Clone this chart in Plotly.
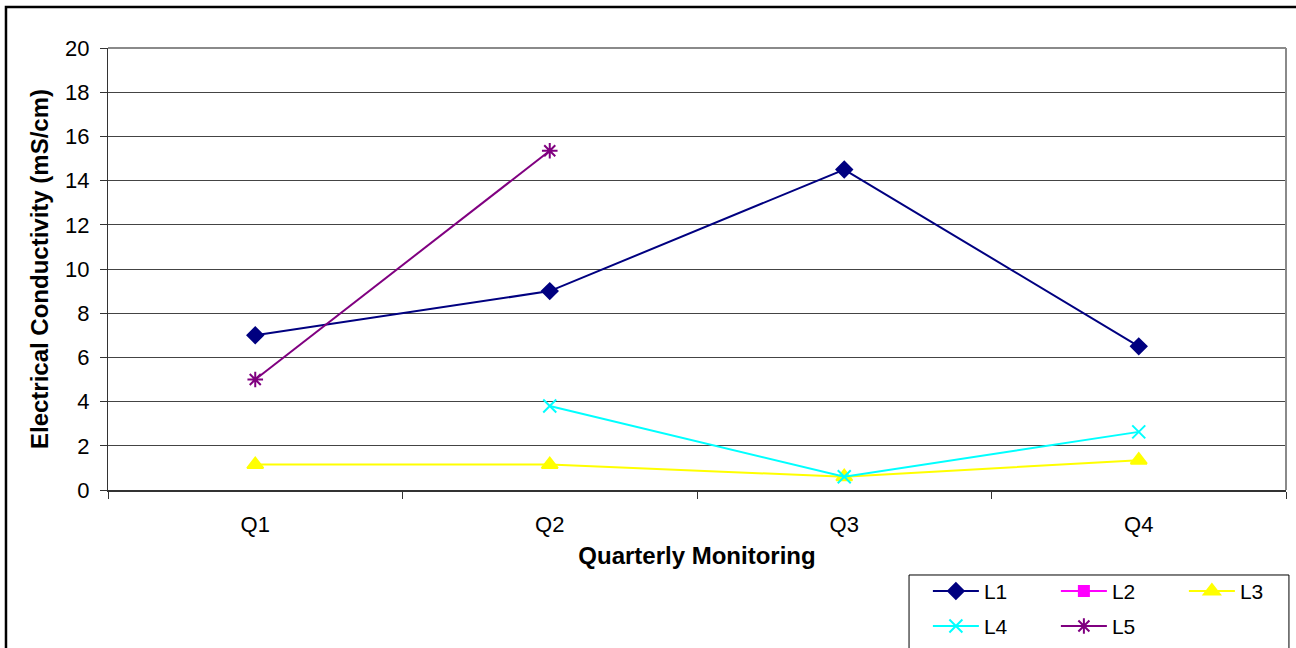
import plotly.graph_objects as go

# Quarterly electrical conductivity readings per monitoring location
quarters = ["Q1", "Q2", "Q3", "Q4"]
l1 = [7.0, 9.0, 14.5, 6.5]
l2 = [None, None, None, None]
l3 = [1.15, 1.15, 0.6, 1.35]
l4 = [None, 3.8, 0.6, 2.63]
l5 = [5.0, 15.35, None, None]
y_ticks = [0, 2, 4, 6, 8, 10, 12, 14, 16, 18, 20]

FONT = "Liberation Sans, Arial, sans-serif"

series = [
    ("L1", l1, "#000080", "diamond", 12, "legend"),
    ("L2", l2, "#FF00FF", "square", 10, "legend"),
    ("L3", l3, "#FFFF00", "triangle-up", 14, "legend"),
    ("L4", l4, "#00FFFF", "x-thin-open", 13, "legend2"),
    ("L5", l5, "#800080", "asterisk-open", 13, "legend2"),
]

fig = go.Figure()
for name, vals, color, symbol, size, leg in series:
    fig.add_trace(go.Scatter(
        x=quarters, y=vals, name=name, mode="lines+markers",
        line=dict(color=color, width=2),
        marker=dict(symbol=symbol, size=size, color=color,
                    line=dict(color=color, width=2)),
        connectgaps=False, legend=leg,
    ))

legend_common = dict(
    orientation="h", xanchor="left", yanchor="top",
    font=dict(family=FONT, size=21, color="#000"),
    bgcolor="rgba(0,0,0,0)", borderwidth=0,
    itemwidth=46, entrywidth=67, entrywidthmode="pixels",
)

fig.update_layout(
    width=1296, height=648,
    margin=dict(l=108, r=10, t=48, b=158, autoexpand=False),
    paper_bgcolor="white", plot_bgcolor="white",
    font=dict(family=FONT, size=22, color="#000"),
    showlegend=True,
    legend=dict(x=0.696, y=-0.183, **legend_common),
    legend2=dict(x=0.696, y=-0.262, **legend_common),
    xaxis=dict(
        type="category", categoryorder="array", categoryarray=quarters,
        range=[-0.5, 3.5], tickson="boundaries",
        ticks="outside", ticklen=7, tickcolor="#333", tickwidth=1,
        ticklabelstandoff=14,
        showline=True, linecolor="#333", linewidth=2,
        showgrid=False, zeroline=False,
        tickfont=dict(family=FONT, size=22),
        title=dict(text="<b>Quarterly Monitoring</b>",
                   font=dict(family=FONT, size=24), standoff=11),
    ),
    yaxis=dict(
        range=[0, 20], tickvals=y_ticks,
        ticks="outside", ticklen=7, tickcolor="#333", tickwidth=1,
        ticklabelstandoff=6,
        showline=True, linecolor="#333", linewidth=1,
        showgrid=True, gridcolor="#444", gridwidth=1,
        zeroline=False,
        tickfont=dict(family=FONT, size=22),
        title=dict(text="<b>Electrical Conductivity (mS/cm)</b>",
                   font=dict(family=FONT, size=24), standoff=9),
    ),
    shapes=[
        # top and right edges of the plot area
        dict(type="line", xref="paper", yref="paper", x0=0, x1=1, y0=1, y1=1,
             line=dict(color="#8a8a8a", width=2)),
        dict(type="line", xref="paper", yref="paper", x0=1, x1=1, y0=0, y1=1,
             line=dict(color="#8a8a8a", width=2)),
        # outer chart frame
        dict(type="rect", xref="paper", yref="paper",
             x0=-0.0866, x1=1.1, y0=-0.45, y1=1.093,
             line=dict(color="#000", width=2.5)),
        # legend box
        dict(type="rect", xref="paper", yref="paper",
             x0=0.680, x1=1.0025, y0=-0.45, y1=-0.1923,
             line=dict(color="#000", width=1)),
    ],
)

fig.write_html("out.html")
